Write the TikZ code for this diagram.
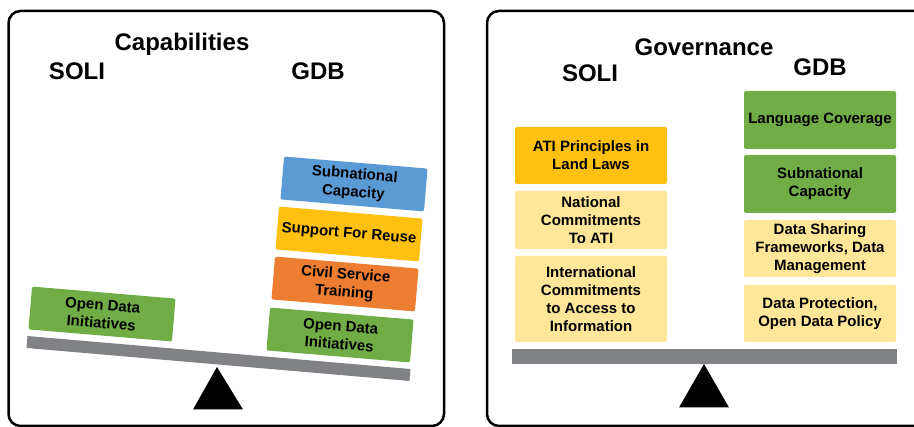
\documentclass[tikz,border=0pt]{standalone}
\usepackage{fontspec}
\setmainfont{Liberation Sans}
\definecolor{cblue}{HTML}{5B9BD5}
\definecolor{cyellow}{HTML}{FFC010}
\definecolor{corange}{HTML}{ED7D31}
\definecolor{cgreen}{HTML}{70AD47}
\definecolor{clight}{HTML}{FFE699}
\definecolor{cgray}{HTML}{808285}
\begin{document}
\begin{tikzpicture}[x=1pt,y=-1pt,
  panel/.style={draw=black,line width=2.5pt,rounded corners=12pt},
  title/.style={font=\bfseries\fontsize{24}{28}\selectfont,inner sep=0pt},
  tbox/.style={rounded corners=2pt,inner sep=0pt,minimum width=144pt,minimum height=43pt,align=center,font=\bfseries\fontsize{15}{18}\selectfont,rotate=-4.8},
  gbox/.style={rounded corners=2pt,inner sep=0pt,minimum width=152pt,minimum height=57pt,align=center,font=\bfseries\fontsize{15}{18}\selectfont},
  beam/.style={fill=cgray},
  pivot/.style={fill=black}]
\useasboundingbox (0,0) rectangle (914,427);
\clip (0,0) rectangle (914,427);
% panels
\draw[panel] (8.5,11) rectangle (444,426);
\draw[panel] (487,11) rectangle (940,426);
% left panel titles
\node[title] (capt) at (182,44) {Capabilities};
\node[title] (lsoli) at (77,71) {SOLI};
\node[title] (lgdb) at (318,71) {GDB};
% left beam and pivot
\draw[cgray,line width=12pt] (27,342) -- (410,375);
\fill[pivot] (217,367) -- (193,409.5) -- (243,409.5) -- cycle;
% left boxes
\node[tbox,fill=cgreen] (lodi) at (102,314) {Open Data\\Initiatives};
\node[tbox,fill=cblue] (lsub) at (354,184) {Subnational\\Capacity};
\node[tbox,fill=cyellow] (lreuse) at (349,234) {Support For Reuse};
\node[tbox,fill=corange] (lcivil) at (345,284) {Civil Service\\Training};
\node[tbox,fill=cgreen] (rodi) at (340,335) {Open Data\\Initiatives};
% right panel titles
\node[title] (gov) at (704,47) {Governance};
\node[title] (rsoli) at (590,73) {SOLI};
\node[title] (rgdb) at (820,67) {GDB};
% right beam and pivot
\fill[beam] (512,349) rectangle (897,364);
\fill[pivot] (704,364) -- (679,407.5) -- (729,407.5) -- cycle;
% right SOLI stack
\node[gbox,fill=cyellow] (ati) at (591,155.5) {ATI Principles in\\Land Laws};
\node[gbox,fill=clight,minimum height=58pt] (nat) at (591,220) {National\\Commitments\\To ATI};
\node[gbox,fill=clight,minimum height=86pt] (intl) at (591,299) {International\\Commitments\\to Access to\\Information};
% right GDB stack
\node[gbox,fill=cgreen,minimum height=58pt] (lang) at (820,120) {Language Coverage};
\node[gbox,fill=cgreen,minimum height=58pt] (rsub) at (820,184) {Subnational\\Capacity};
\node[gbox,fill=clight] (share) at (820,248.5) {Data Sharing\\Frameworks, Data\\Management};
\node[gbox,fill=clight] (prot) at (820,313.5) {Data Protection,\\Open Data Policy};
\end{tikzpicture}
\end{document}
